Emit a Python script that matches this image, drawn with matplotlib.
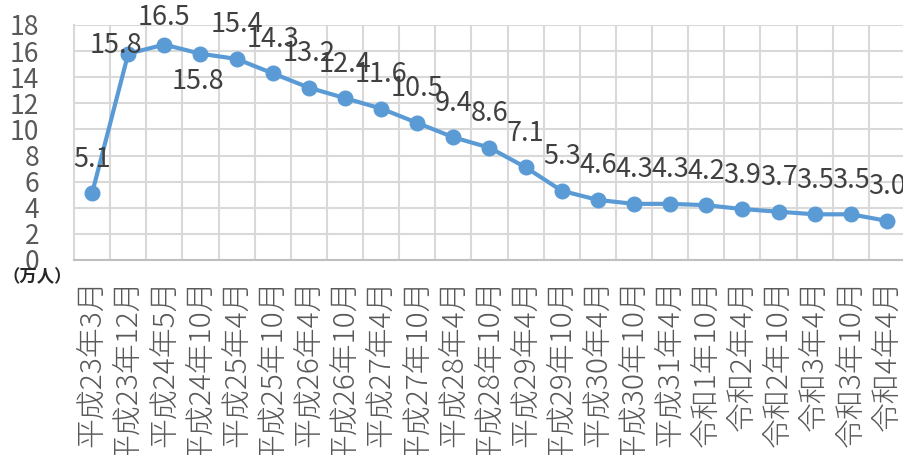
import matplotlib.pyplot as plt
import numpy as np

plt.rcParams["font.family"] = ["Noto Sans CJK JP", "DejaVu Sans"]

periods = [
    "平成23年3月", "平成23年12月", "平成24年5月", "平成24年10月",
    "平成25年4月", "平成25年10月", "平成26年4月", "平成26年10月",
    "平成27年4月", "平成27年10月", "平成28年4月", "平成28年10月",
    "平成29年4月", "平成29年10月", "平成30年4月", "平成30年10月",
    "平成31年4月", "令和1年10月", "令和2年4月", "令和2年10月",
    "令和3年4月", "令和3年10月", "令和4年4月",
]
evacuees = [
    5.1, 15.8, 16.5, 15.8, 15.4, 14.3, 13.2, 12.4, 11.6, 10.5, 9.4, 8.6,
    7.1, 5.3, 4.6, 4.3, 4.3, 4.2, 3.9, 3.7, 3.5, 3.5, 3.0,
]
y_ticks = list(range(0, 19, 2))

# label offsets in points; most sit straight above their marker
label_offsets = {1: (-8.5, 6), 2: (0, 19.5), 3: (-1.5, -20)}

line_color = "#5b9bd5"
grid_color = "#d9d9d9"
text_color = "#595959"

fig = plt.figure(figsize=(9.04, 4.55), dpi=100)
ax = fig.add_axes([74 / 904, 1 - 260 / 455, 831 / 904, 235 / 455])

x = np.arange(len(periods))
ax.plot(x, evacuees, color=line_color, linewidth=3, marker="o",
        markersize=10.5, zorder=3, clip_on=False)

for i, v in enumerate(evacuees):
    dx, dy = label_offsets.get(i, (0, 24.5))
    ax.annotate(f"{v:.1f}", (i, v), xytext=(dx, dy), textcoords="offset points",
                ha="center", va="center", fontsize=19.5, color="#404040",
                annotation_clip=False, zorder=4)

ax.set_xlim(-0.5, len(periods) - 0.5)
ax.set_ylim(0, 18)
ax.set_yticks(y_ticks)
ax.set_xticks(x)
ax.set_xticklabels(periods, rotation=90, fontsize=21.5, color=text_color,
                   fontweight="light")
ax.set_xticks(x[:-1] + 0.5, minor=True)
ax.tick_params(axis="x", which="both", length=0, pad=14)
ax.tick_params(axis="y", length=0, pad=25, labelsize=19, labelcolor=text_color)

ax.grid(axis="y", which="major", color=grid_color, linewidth=1.5)
ax.grid(axis="x", which="minor", color=grid_color, linewidth=1.5)
ax.set_axisbelow(True)
for side in ("top", "right"):
    ax.spines[side].set_visible(False)
ax.spines["left"].set_color(grid_color)
ax.spines["left"].set_linewidth(1.5)
ax.spines["bottom"].set_color("#bfbfbf")
ax.spines["bottom"].set_linewidth(1.5)

fig.text(2 / 904, 1 - 277 / 455, "（万人）", fontsize=12.5, color="#262626",
         fontweight="bold", ha="left", va="center")

fig.savefig("out.png", dpi=100)
